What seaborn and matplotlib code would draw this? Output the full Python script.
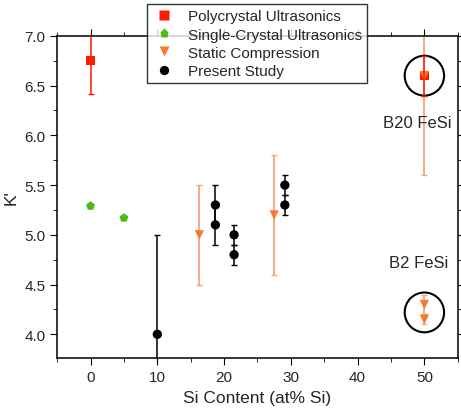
import numpy as np
import pandas as pd
import seaborn as sns
import matplotlib.pyplot as plt
from matplotlib.patches import Ellipse
from matplotlib.ticker import MultipleLocator

sns.set_style("ticks")
plt.rcParams['font.family'] = ['Liberation Sans', 'DejaVu Sans']

# data
poly_x = [0, 50]
poly_k = [6.75, 6.6]
poly_err = [0.33, 0.2]

single_x = [0, 5]
single_k = [5.29, 5.17]

static_x = [16.3, 27.5, 50, 50, 50]
static_k = [5.0, 5.2, 6.6, 4.3, 4.15]
static_err = [0.5, 0.6, 1.0, 0.1, 0.05]

present_x = [10, 18.7, 18.7, 21.5, 21.5, 29.1, 29.1]
present_k = [4.0, 5.3, 5.1, 5.0, 4.8, 5.5, 5.3]
present_err = [1.0, 0.2, 0.2, 0.1, 0.1, 0.1, 0.1]

df = pd.concat([
    pd.DataFrame({"x": poly_x, "k": poly_k, "src": "Polycrystal Ultrasonics"}),
    pd.DataFrame({"x": single_x, "k": single_k, "src": "Single-Crystal Ultrasonics"}),
    pd.DataFrame({"x": static_x, "k": static_k, "src": "Static Compression"}),
    pd.DataFrame({"x": present_x, "k": present_k, "src": "Present Study"}),
], ignore_index=True)

palette = {"Polycrystal Ultrasonics": "#ff1a00",
           "Single-Crystal Ultrasonics": "#4cbb17",
           "Static Compression": "#f47a30",
           "Present Study": "black"}
markers = {"Polycrystal Ultrasonics": "s",
           "Single-Crystal Ultrasonics": "p",
           "Static Compression": "v",
           "Present Study": "o"}

fig, ax = plt.subplots(figsize=(4.61, 4.10), dpi=100)

# error bars first
ax.errorbar(static_x, static_k, yerr=static_err, fmt='none', ecolor='#f6a57c',
            elinewidth=1.3, capsize=2.5, capthick=1, zorder=1)
ax.errorbar(present_x, present_k, yerr=present_err, fmt='none', ecolor='black',
            elinewidth=1.1, capsize=2.5, capthick=1, zorder=1)
ax.errorbar(poly_x, poly_k, yerr=poly_err, fmt='none', ecolor='#ff1a00',
            elinewidth=1.1, capsize=2.5, capthick=1, zorder=3)

sns.scatterplot(data=df, x="x", y="k", hue="src", style="src", palette=palette,
                markers=markers, s=45, edgecolor='none', ax=ax, zorder=2)

ax.add_patch(Ellipse((50, 6.6), 5.9, 0.4, fill=False, lw=1.5, color='black'))
ax.add_patch(Ellipse((50, 4.22), 5.9, 0.4, fill=False, lw=1.5, color='black'))
ax.text(48.9, 6.13, "B20 FeSi", ha='center', va='center', fontsize=12)
ax.text(49.2, 4.72, "B2 FeSi", ha='center', va='center', fontsize=12)

ax.set_xlim(-5, 55)
ax.set_ylim(3.76, 7.0)
ax.xaxis.set_major_locator(MultipleLocator(10))
ax.xaxis.set_minor_locator(MultipleLocator(5))
ax.yaxis.set_major_locator(MultipleLocator(0.5))
ax.yaxis.set_minor_locator(MultipleLocator(0.25))
ax.tick_params(which='both', direction='out', top=True, right=True,
               labeltop=False, labelright=False, labelsize=11, color='black')
ax.tick_params(which='major', length=5)
ax.tick_params(which='minor', length=3)
for sp in ax.spines.values():
    sp.set_linewidth(1.1)
    sp.set_color('black')

ax.set_xlabel("Si Content (at% Si)", fontsize=12.5)
ax.set_ylabel("K'", fontsize=12.5)

leg = ax.legend(loc='upper center', bbox_to_anchor=(0.5, 1.123), frameon=True,
                fancybox=False, edgecolor='black', fontsize=11,
                handletextpad=0.8, labelspacing=0.28, borderpad=0.35,
                handlelength=1.5)
leg.get_frame().set_linewidth(1.0)

fig.subplots_adjust(left=0.124, right=0.993, top=0.91, bottom=0.124)
fig.savefig("out.png", dpi=100)
